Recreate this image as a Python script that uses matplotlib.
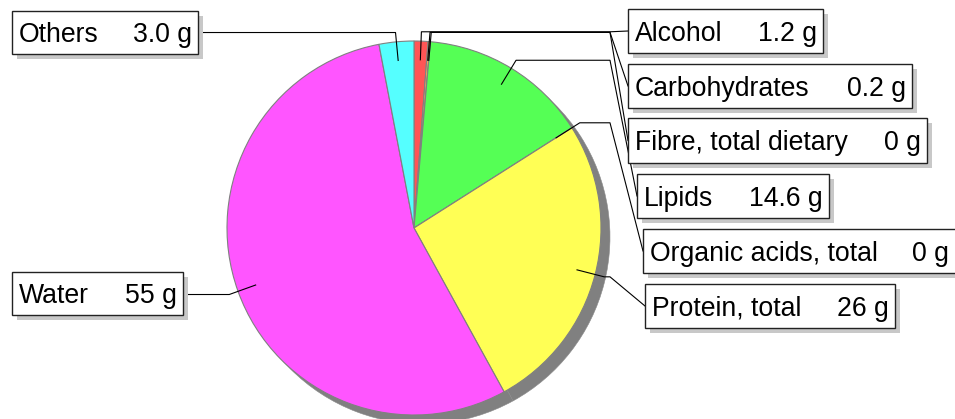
import numpy as np
import matplotlib.pyplot as plt
from matplotlib.patches import Rectangle

plt.rcParams["font.family"] = ["Liberation Sans", "DejaVu Sans"]

# nutrient composition (grams per 100 g)
labels = ["Alcohol", "Carbohydrates", "Fibre, total dietary", "Lipids",
          "Organic acids, total", "Protein, total", "Water", "Others"]
values = [1.2, 0.2, 0, 14.6, 0, 26, 55, 3.0]
value_text = ["1.2 g", "0.2 g", "0 g", "14.6 g", "0 g", "26 g", "55 g", "3.0 g"]
colors = ["#ff5555", "#ffaa55", "#aaaaaa", "#55ff55",
          "#aa55ff", "#ffff55", "#ff55ff", "#55ffff"]

# label boxes in pixel coords (x0, y0, x1, y1), side of the pie
boxes = [
    (628, 9, 823, 53, "R"),
    (628, 64, 912, 108, "R"),
    (628, 118, 927, 163, "R"),
    (637, 174, 829, 218, "R"),
    (643, 229, 958, 273, "R"),
    (645, 284, 895, 328, "R"),
    (12, 272, 183, 315, "L"),
    (12, 11, 198, 54, "L"),
]

W, H = 955, 419
CX, CY, R = 414, 228, 187
SHADOW = 9
BEND_X = 610
FS = 19.2

fig = plt.figure(figsize=(W / 100, H / 100), dpi=100)
ax = fig.add_axes([0, 0, 1, 1])

# y axis is inverted (pixel coords), so counterclock=True draws clockwise on screen
ax.pie(values, colors=["#808080"] * len(values), startangle=-90, counterclock=True,
       center=(CX + SHADOW, CY + SHADOW), radius=R,
       wedgeprops=dict(edgecolor="#8a8a8a", linewidth=0.4))
ax.pie(values, colors=colors, startangle=-90, counterclock=True,
       center=(CX, CY), radius=R,
       wedgeprops=dict(edgecolor="#808080", linewidth=0.8))

ax.set_xlim(0, W)
ax.set_ylim(H, 0)
ax.set_aspect("auto")
ax.axis("off")

total = sum(values)
cum = np.cumsum([0] + values[:-1])
for i, (lab, v, vt) in enumerate(zip(labels, values, value_text)):
    x0, y0, x1, y1, side = boxes[i]
    yc = (y0 + y1) / 2
    theta = np.deg2rad(-90 + 360 * (cum[i] + v / 2) / total)
    sx, sy = CX + 0.9 * R * np.cos(theta), CY + 0.9 * R * np.sin(theta)
    ex, ey = CX + 1.05 * R * np.cos(theta), CY + 1.05 * R * np.sin(theta)
    if side == "R":
        hx = max(ex, BEND_X)
        xs = [sx, ex, hx, x0]
        ys = [sy, ey, ey, yc]
    else:
        xs = [sx, ex, x1]
        ys = [sy, ey, ey]
    ax.plot(xs, ys, color="black", lw=0.8, zorder=3)

    ax.add_patch(Rectangle((x0 + 5, y0 + 5), x1 - x0, y1 - y0,
                           facecolor="#c8c8c8", edgecolor="none", zorder=4))
    ax.add_patch(Rectangle((x0, y0), x1 - x0, y1 - y0,
                           facecolor="white", edgecolor="#222222", lw=1.0, zorder=5))
    base = yc + 0.37 * FS * 100 / 72
    ax.text(x0 + 7, base, lab, fontsize=FS, ha="left", va="baseline", zorder=6)
    ax.text(min(x1, W) - 6, base, vt, fontsize=FS, ha="right", va="baseline", zorder=6)

fig.savefig("out.png", dpi=100)
